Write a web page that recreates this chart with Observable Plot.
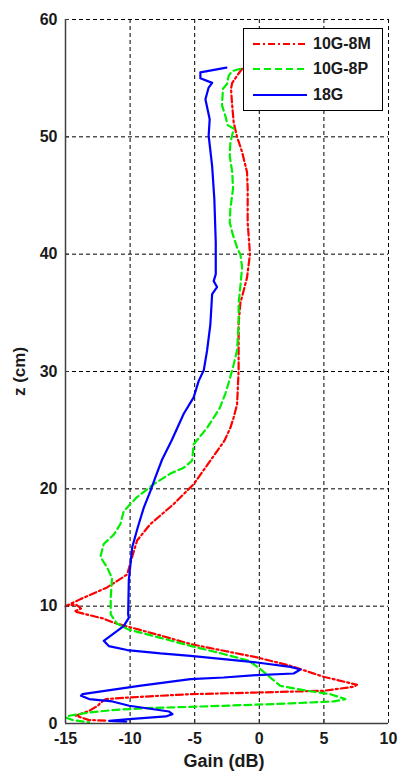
<!DOCTYPE html>
<html>
<head>
<meta charset="utf-8">
<script src="https://cdn.jsdelivr.net/npm/d3@7"></script>
<script src="https://cdn.jsdelivr.net/npm/@observablehq/plot@0.6"></script>
<style>
  html, body { margin: 0; padding: 0; background: #fff; }
  #wrap { position: relative; width: 399px; height: 774px; }
  #legend { position: absolute; left: 243px; top: 28px; width: 140px; height: 83px;
    background: #fff; border: 1px solid #000; box-sizing: border-box; }
  #legend svg { position: absolute; left: 0; top: 0; }
  #legend .lbl { position: absolute; left: 69px; font: bold 16px "Liberation Sans", Arial, sans-serif; color: #1a1a1a; line-height: 18px; }
</style>
</head>
<body>
<div id="wrap"></div>
<script>
// Series: 10G-8M (red, dash-dot)
const gain8M = [-1.33,-1.6,-2.1,-2.19,-2.1,-1.98,-1.72,-1.33,-0.95,-0.9,-0.9,-0.72,-0.95,-1.47,-1.6,-1.6,-1.72,-1.98,-2.24,-2.7,-3.79,-5.08,-6.63,-8.43,-9.46,-9.84,-10.23,-11.78,-13.84,-15.0,-14.2,-13.8,-14.3,-12.1,-11.3,-7.65,-5.33,-2.76,-0.17,2.4,4.98,7.56,7.3,4.98,-0.17,-5.33,-10.07,-11.88,-12.27,-12.5,-13.17,-14.2,-13.17,-11.88];
const z8M = [55.8,55.4,54.6,54.1,52.7,51.2,50.0,48.7,47.0,45.6,42.7,40.0,38.0,35.8,34.1,30.1,27.2,26.1,25.2,24.1,22.4,20.4,18.7,17.0,15.6,14.2,12.7,11.6,10.6,10.0,10.15,9.8,9.55,8.95,8.6,7.5,6.77,6.2,5.63,4.92,3.98,3.3,3.13,2.79,2.64,2.5,2.22,2.08,1.79,1.51,1.08,0.66,0.29,0.25];

// Series: 10G-8P (green, dashed)
const gain8P = [-1.47,-2.1,-2.37,-2.5,-2.81,-2.89,-2.63,-2.45,-1.98,-2.24,-2.29,-2.1,-2.03,-2.24,-2.29,-2.03,-1.67,-1.47,-1.33,-1.47,-1.6,-1.6,-1.72,-1.98,-2.3,-2.63,-3.1,-4.04,-5.08,-5.2,-5.85,-6.88,-8.17,-9.46,-10.49,-10.75,-11.26,-12.04,-12.3,-11.78,-11.4,-11.5,-11.5,-11.0,-10.1,-7.65,-5.33,-2.76,-0.82,0.08,0.85,1.63,3.7,5.5,6.66,5.76,2.4,-2.76,-5.33,-8.79,-11.37,-13.17,-14.71,-14.98,-14.46,-13.17];
const z8P = [55.8,55.6,55.2,54.5,54.1,52.7,51.8,51.0,50.7,49.5,48.4,47.0,45.6,43.9,42.7,41.6,40.4,40.0,38.9,37.2,35.8,34.1,31.8,30.6,29.3,28.1,26.8,25.2,23.8,22.4,21.8,21.3,20.4,19.3,18.1,17.0,16.1,15.3,14.2,13.3,12.4,10.7,9.3,8.5,8.0,7.3,6.62,5.92,5.35,4.64,3.92,3.21,2.79,2.5,2.08,1.88,1.71,1.51,1.42,1.31,1.14,0.94,0.66,0.51,0.29,0.09];

// Series: 18G (blue, solid)
const gain18G = [-2.55,-4.56,-4.56,-3.65,-3.92,-4.17,-3.84,-3.92,-3.65,-3.48,-3.37,-3.37,-3.53,-3.27,-3.65,-3.79,-4.04,-4.3,-4.69,-5.08,-5.85,-6.75,-7.52,-8.04,-8.43,-8.94,-9.41,-9.84,-9.97,-10.1,-10.15,-10.1,-10.5,-12.04,-11.65,-10.23,-7.65,-5.33,-2.76,-0.17,2.4,3.18,2.66,-0.17,-2.76,-5.33,-9.3,-13.69,-13.8,-13.17,-11.37,-10.07,-6.98,-6.72,-7.24,-10.07,-11.62,-10.3];
const z18G = [55.9,55.5,55.0,54.6,54.2,53.2,51.5,50.1,47.5,44.7,41.0,38.3,37.7,37.2,36.6,34.0,31.8,30.1,29.2,27.8,26.4,24.2,22.5,21.0,19.8,18.4,16.7,15.0,13.6,12.2,9.3,9.0,8.3,7.05,6.6,6.26,5.97,5.77,5.49,5.2,4.83,4.6,4.26,4.13,3.92,3.78,3.21,2.5,2.36,2.08,1.88,1.51,1.02,0.8,0.6,0.37,0.23,0.15];

const seriesNames = ["10G-8M", "10G-8P", "18G"];
const seriesColors = ["#ff0000", "#00ee00", "#0000ff"];
const seriesDash = ["7,3,2,3", "7,4", null];
const xTicks = [-15, -10, -5, 0, 5, 10];
const yTicks = [0, 10, 20, 30, 40, 50, 60];

const toRows = (gs, zs, name) => gs.map((g, i) => ({gain: g, z: zs[i], series: name}));
const rows = [
  toRows(gain8M, z8M, seriesNames[0]),
  toRows(gain8P, z8P, seriesNames[1]),
  toRows(gain18G, z18G, seriesNames[2])
];

const font = '"Liberation Sans", Arial, sans-serif';
const grid = {stroke: "#000", strokeOpacity: 1, strokeWidth: 1, strokeDasharray: "4,3"};
const fmt = d => String(d);

const chart = Plot.plot({
  width: 399,
  height: 774,
  marginLeft: 65,
  marginRight: 11,
  marginTop: 19,
  marginBottom: 51,
  style: {fontFamily: font, fontWeight: "bold", fontSize: "16px", color: "#1a1a1a", background: "#fff"},
  x: {type: "linear", domain: [-15, 10]},
  y: {type: "linear", domain: [0, 60]},
  marks: [
    Plot.gridX(xTicks.filter(d => d !== -15), grid),
    Plot.gridY(yTicks.filter(d => d !== 0), grid),
    ...rows.map((r, i) => Plot.line(r, {
      x: "gain", y: "z", stroke: seriesColors[i], strokeWidth: 2.2,
      strokeDasharray: seriesDash[i], strokeLinejoin: "round", curve: "linear"
    })),
    Plot.axisX(xTicks, {tickSize: -4, tickPadding: 13, stroke: "#333", fontSize: 16, fontWeight: "bold", label: null, tickFormat: fmt}),
    Plot.axisY(yTicks, {tickSize: -4, tickPadding: 12, stroke: "#333", fontSize: 16, fontWeight: "bold", label: null, tickFormat: fmt}),
    Plot.ruleY([0], {stroke: "#404040", strokeWidth: 1.5}),
    Plot.ruleX([-15], {stroke: "#404040", strokeWidth: 1.5}),
    Plot.text(["Gain (dB)"], {frameAnchor: "bottom", dy: 43, fontSize: 18, fontWeight: "bold", fill: "#1a1a1a", dx: -3}),
    Plot.text(["z (cm)"], {frameAnchor: "left", textAnchor: "middle", dx: -46, dy: 0, rotate: -90, fontSize: 17, fontWeight: "bold", fill: "#1a1a1a"})
  ]
});

const wrap = document.getElementById("wrap");
wrap.appendChild(chart);

// legend
const legend = document.createElement("div");
legend.id = "legend";
const ns = "http://www.w3.org/2000/svg";
const svg = document.createElementNS(ns, "svg");
svg.setAttribute("width", 140);
svg.setAttribute("height", 83);
const rowY = [15, 40, 66];
seriesNames.forEach((name, i) => {
  const ln = document.createElementNS(ns, "line");
  ln.setAttribute("x1", 9); ln.setAttribute("x2", 63);
  ln.setAttribute("y1", rowY[i]); ln.setAttribute("y2", rowY[i]);
  ln.setAttribute("stroke", seriesColors[i]);
  ln.setAttribute("stroke-width", 2.2);
  if (seriesDash[i]) ln.setAttribute("stroke-dasharray", seriesDash[i]);
  svg.appendChild(ln);
  const t = document.createElement("div");
  t.className = "lbl";
  t.style.top = (rowY[i] - 9) + "px";
  t.textContent = name;
  legend.appendChild(t);
});
legend.insertBefore(svg, legend.firstChild);
wrap.appendChild(legend);
</script>
</body>
</html>
